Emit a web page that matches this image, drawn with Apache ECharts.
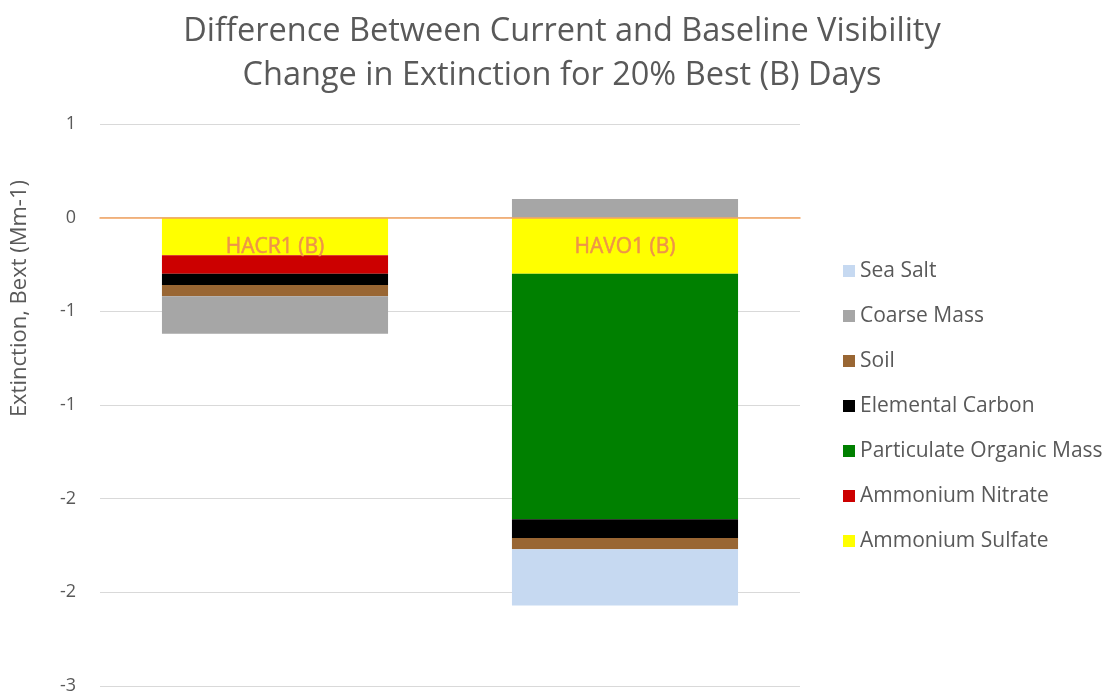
<!DOCTYPE html>
<html>
<head>
<meta charset="utf-8">
<script src="https://cdn.jsdelivr.net/npm/echarts@6/dist/echarts.min.js"></script>
<style>
  html, body { margin: 0; padding: 0; background: #fff; }
  #chart { width: 1105px; height: 696px; }
</style>
</head>
<body>
<div id="chart"></div>
<script>
// Sites (category axis)
const categories = ['HACR1 (B)', 'HAVO1 (B)'];

// Change in extinction per species, Mm-1 (current minus baseline)
const ammoniumSulfate = [-0.20, -0.30];
const ammoniumNitrate = [-0.10, 0.00];
const particulateOrganicMass = [0.00, -1.31];
const elementalCarbon = [-0.06, -0.10];
const soil = [-0.06, -0.06];
const coarseMass = [-0.20, 0.10];
const seaSalt = [0.00, -0.30];

// Legend order (top to bottom)
const legendOrder = ['Sea Salt', 'Coarse Mass', 'Soil', 'Elemental Carbon',
  'Particulate Organic Mass', 'Ammonium Nitrate', 'Ammonium Sulfate'];

const FONT = '"Open Sans", "Noto Sans", sans-serif';
const TEXT = '#595959';

// Stack order from zero outward
const seriesDefs = [
  { name: 'Ammonium Sulfate', data: ammoniumSulfate, color: '#FFFF00' },
  { name: 'Ammonium Nitrate', data: ammoniumNitrate, color: '#CC0000' },
  { name: 'Particulate Organic Mass', data: particulateOrganicMass, color: '#008000' },
  { name: 'Elemental Carbon', data: elementalCarbon, color: '#000000' },
  { name: 'Soil', data: soil, color: '#996633' },
  { name: 'Coarse Mass', data: coarseMass, color: '#A6A6A6' },
  { name: 'Sea Salt', data: seaSalt, color: '#C6D9F1' }
];

// Whole-number tick labels, halves rounded away from zero
function roundLabel(v) {
  const r = Math.sign(v) * Math.round(Math.abs(v));
  return r === 0 ? '0' : String(r);
}

const barSeries = seriesDefs.map(s => ({
  name: s.name,
  type: 'bar',
  stack: 'total',
  data: s.data,
  barCategoryGap: '35.4%',
  itemStyle: { color: s.color },
  emphasis: { disabled: true }
}));

// Site names sit just under the zero line, like the category axis crossing at 0
const siteLabels = {
  name: 'site',
  type: 'scatter',
  symbolSize: 0,
  silent: true,
  z: 20,
  itemStyle: { opacity: 1 },
  data: categories.map(c => [c, 0]),
  label: {
    show: true,
    position: 'bottom',
    distance: 18,
    formatter: p => p.data[0],
    fontFamily: FONT,
    fontSize: 21,
    lineHeight: 22,
    color: '#EE9448',
    opacity: 1,
    textBorderColor: '#EE9448',
    textBorderWidth: 0.5
  }
};

const chart = echarts.init(document.getElementById('chart'));
chart.setOption({
  animation: false,
  backgroundColor: '#ffffff',
  title: {
    text: 'Difference Between Current and Baseline Visibility\nChange in Extinction for 20% Best (B) Days',
    left: 557,
    textAlign: 'center',
    top: 5,
    textStyle: { fontFamily: FONT, fontSize: 32.5, fontWeight: 'normal', color: TEXT, lineHeight: 44 }
  },
  grid: { left: 100, right: 305, top: 124, bottom: 10, containLabel: false, outerBoundsMode: 'none' },
  legend: {
    orient: 'vertical',
    left: 843,
    top: 259,
    padding: 0,
    data: legendOrder,
    icon: 'rect',
    itemWidth: 12,
    itemHeight: 12,
    itemGap: 21,
    selectedMode: false,
    textStyle: { fontFamily: FONT, fontSize: 21, color: TEXT, lineHeight: 24 }
  },
  graphic: [{
    type: 'text',
    left: 9,
    top: 180,
    rotation: Math.PI / 2,
    style: {
      text: 'Extinction, Bext (Mm-1)',
      font: '22px ' + FONT,
      fill: TEXT
    }
  }],
  xAxis: {
    type: 'category',
    data: categories,
    axisLine: { onZero: true, lineStyle: { color: '#F4A35F', width: 1.5 } },
    axisTick: { show: false },
    axisLabel: { show: false },
    z: 10
  },
  yAxis: {
    type: 'value',
    min: -2.5,
    max: 0.5,
    interval: 0.5,
    axisLine: { show: false },
    axisTick: { show: false },
    splitLine: { lineStyle: { color: '#D9D9D9', width: 1 } },
    axisLabel: {
      fontFamily: FONT, fontSize: 18, color: TEXT, margin: 24,
      formatter: roundLabel
    }
  },
  series: barSeries.concat([siteLabels])
});
</script>
</body>
</html>
